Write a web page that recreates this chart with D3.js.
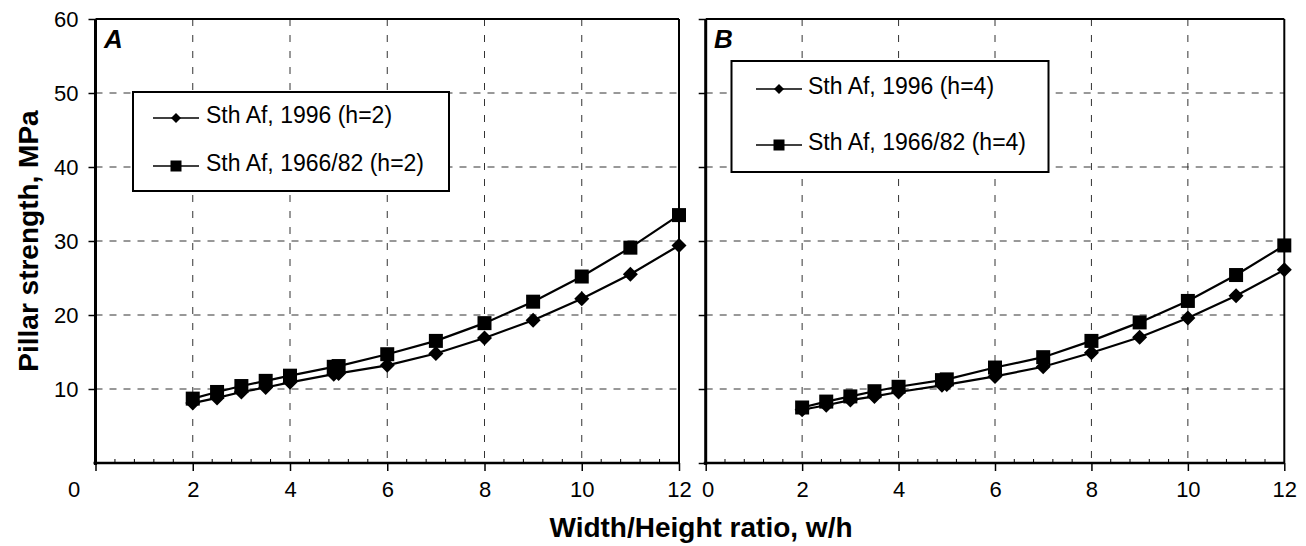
<!DOCTYPE html>
<html><head><meta charset="utf-8">
<script src="https://cdn.jsdelivr.net/npm/d3@7"></script>
<style>
html,body{margin:0;padding:0;background:#fff;}
svg{display:block;font-family:"Liberation Sans",Arial,sans-serif;}
</style></head>
<body>
<svg id="chart" width="1306" height="546"></svg>
<script>
// ---- data ----
const ratios = [2, 2.5, 3, 3.5, 4, 4.9, 5, 6, 7, 8, 9, 10, 11, 12];
const sa1996_h2 = [8.1, 8.8, 9.6, 10.2, 10.9, 12.0, 12.1, 13.2, 14.8, 16.9, 19.3, 22.2, 25.5, 29.4];
const sa1966_h2 = [8.7, 9.6, 10.4, 11.1, 11.8, 13.0, 13.1, 14.7, 16.5, 18.9, 21.8, 25.2, 29.1, 33.5];
const sa1996_h4 = [7.2, 7.8, 8.5, 9.0, 9.6, 10.5, 10.6, 11.7, 13.0, 14.9, 17.0, 19.6, 22.6, 26.1];
const sa1966_h4 = [7.5, 8.3, 9.0, 9.7, 10.3, 11.2, 11.3, 12.9, 14.3, 16.5, 19.0, 21.9, 25.4, 29.4];
const xTicks = [0, 2, 4, 6, 8, 10, 12];
const yTicks = [10, 20, 30, 40, 50, 60];
const legendA = ["Sth Af, 1996 (h=2)", "Sth Af, 1966/82 (h=2)"];
const legendB = ["Sth Af, 1996 (h=4)", "Sth Af, 1966/82 (h=4)"];
const xTitle = "Width/Height ratio, w/h";
const yTitle = "Pillar strength, MPa";

const svg = d3.select("#chart");
const plotTop = 19, plotBottom = 463;
const y = d3.scaleLinear().domain([0, 60]).range([plotBottom, plotTop]);

function diamondPath(r) {
  return `M0,${-r}L${r},0L0,${r}L${-r},0Z`;
}

function drawPanel(o) {
  const x = d3.scaleLinear().domain([0, 12]).range([o.left, o.right]);
  const g = svg.append("g");

  // grid
  g.append("g").selectAll("line").data(yTicks.filter(d => d < 60)).join("line")
    .attr("x1", o.left).attr("x2", o.right)
    .attr("y1", d => y(d)).attr("y2", d => y(d))
    .attr("stroke", "#333").attr("stroke-width", 1).attr("stroke-dasharray", "7,7");
  g.append("g").selectAll("line").data(xTicks.filter(d => d > 0 && d < 12)).join("line")
    .attr("x1", d => x(d)).attr("x2", d => x(d))
    .attr("y1", plotTop).attr("y2", plotBottom)
    .attr("stroke", "#333").attr("stroke-width", 1).attr("stroke-dasharray", "7,9");

  // frame top/right
  g.append("line").attr("x1", o.left).attr("x2", o.right).attr("y1", plotTop).attr("y2", plotTop)
    .attr("stroke", "#000").attr("stroke-width", 2);
  g.append("line").attr("x1", o.right).attr("x2", o.right).attr("y1", plotTop).attr("y2", plotBottom)
    .attr("stroke", "#000").attr("stroke-width", 2);

  // minor x ticks (inside)
  const minor = d3.range(0, 12.001, 0.4).map(d => +d.toFixed(2)).filter(d => xTicks.indexOf(d) < 0);
  g.append("g").selectAll("line").data(minor).join("line")
    .attr("x1", d => x(d)).attr("x2", d => x(d))
    .attr("y1", plotBottom).attr("y2", plotBottom - 4)
    .attr("stroke", "#000").attr("stroke-width", 1);

  // x axis
  const xa = g.append("g").attr("transform", `translate(0,${plotBottom})`)
    .call(d3.axisBottom(x).tickValues(xTicks).tickSize(8).tickPadding(10).tickFormat(d3.format("d")));
  xa.select(".domain").attr("stroke-width", 2.5).attr("d", `M${o.left - 2},0H${o.right}`);
  xa.selectAll(".tick line").attr("stroke-width", 1.5);
  xa.selectAll(".tick text").attr("font-size", 22).attr("fill", "#000")
    .attr("font-family", '"Liberation Sans",Arial,sans-serif')
    .attr("dx", d => d === 0 ? o.zeroShift : 0);

  // y axis
  const ya = g.append("g").attr("transform", `translate(${o.left},0)`)
    .call(d3.axisLeft(y).tickValues(o.yLabels ? yTicks : yTicks.concat([0])).tickSize(7).tickPadding(10)
      .tickFormat(o.yLabels ? d3.format("d") : () => ""));
  ya.select(".domain").attr("stroke-width", 3).attr("d", `M0,${plotTop}V${plotBottom + 2}`);
  ya.selectAll(".tick line").attr("stroke-width", 1.5);
  ya.selectAll(".tick text").attr("font-size", 22).attr("fill", "#000")
    .attr("font-family", '"Liberation Sans",Arial,sans-serif');

  // series
  const line = d3.line().x((d, i) => x(ratios[i])).y(d => y(d));
  [o.sq, o.di].forEach(s => {
    g.append("path").datum(s).attr("d", line).attr("fill", "none")
      .attr("stroke", "#000").attr("stroke-width", 2.2);
  });
  g.append("g").selectAll("rect").data(o.sq).join("rect")
    .attr("x", (d, i) => x(ratios[i]) - 7).attr("y", d => y(d) - 7)
    .attr("width", 14).attr("height", 14).attr("fill", "#000");
  g.append("g").selectAll("path").data(o.di).join("path")
    .attr("transform", (d, i) => `translate(${x(ratios[i])},${y(d)})`)
    .attr("d", diamondPath(7.5)).attr("fill", "#000");

  // panel letter
  g.append("text").attr("x", o.letterX).attr("y", 48).text(o.letter)
    .attr("font-size", 26).attr("font-weight", "bold").attr("font-style", "italic");

  // legend
  const L = o.legend;
  g.append("rect").attr("x", L.x).attr("y", L.y).attr("width", L.w).attr("height", L.h)
    .attr("fill", "#fff").attr("stroke", "#000").attr("stroke-width", 2);
  o.legendText.forEach((t, i) => {
    const ry = L.rows[i];
    g.append("line").attr("x1", L.lx1).attr("x2", L.lx2).attr("y1", ry).attr("y2", ry)
      .attr("stroke", "#000").attr("stroke-width", 1.5);
    if (i === 0) {
      g.append("path").attr("transform", `translate(${(L.lx1 + L.lx2) / 2},${ry})`)
        .attr("d", diamondPath(5)).attr("fill", "#000");
    } else {
      g.append("rect").attr("x", (L.lx1 + L.lx2) / 2 - 5.5).attr("y", ry - 5.5)
        .attr("width", 11).attr("height", 11).attr("fill", "#000");
    }
    g.append("text").attr("x", L.tx).attr("y", ry + 5).text(t)
      .attr("font-size", 23).attr("fill", "#000");
  });
}

drawPanel({
  left: 95.5, right: 679, yLabels: true, zeroShift: -22,
  sq: sa1966_h2, di: sa1996_h2, letter: "A", letterX: 104,
  legend: { x: 133, y: 92, w: 316, h: 99, rows: [118, 166], lx1: 153, lx2: 199, tx: 206 },
  legendText: legendA
});
drawPanel({
  left: 705.7, right: 1284.3, yLabels: false, zeroShift: 2,
  sq: sa1966_h4, di: sa1996_h4, letter: "B", letterX: 714,
  legend: { x: 731.5, y: 61, w: 317, h: 111, rows: [89, 145], lx1: 756, lx2: 802, tx: 808 },
  legendText: legendB
});

// axis titles
svg.append("text").attr("x", 701).attr("y", 537).attr("text-anchor", "middle")
  .attr("font-size", 28).attr("font-weight", "bold").text(xTitle);
svg.append("text").attr("transform", "translate(38,241) rotate(-90)").attr("text-anchor", "middle")
  .attr("font-size", 28).attr("font-weight", "bold").text(yTitle);
</script>
</body></html>
